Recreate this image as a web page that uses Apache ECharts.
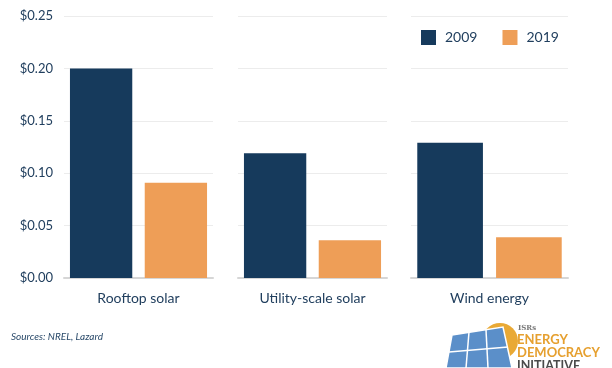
<!DOCTYPE html>
<html><head><meta charset="utf-8">
<script src="https://cdn.jsdelivr.net/npm/echarts@6/dist/echarts.min.js"></script>
<style>html,body{margin:0;padding:0;background:#fff}#c{width:612px;height:368px}</style>
</head><body><div id="c"></div>
<script>
const categories = ['Rooftop solar', 'Utility-scale solar', 'Wind energy'];
const seriesNames = ['2009', '2019'];
const values2009 = [0.200, 0.119, 0.129];
const values2019 = [0.091, 0.036, 0.039];
const yTicks = [0, 0.05, 0.10, 0.15, 0.20, 0.25];

const NAVY = '#163a5c', ORANGE = '#ee9e57', TXT = '#213f5e';
const FONT = 'Lato, "Noto Sans", sans-serif';
const grids = [
  {left: 64, width: 149, top: 16, height: 262},
  {left: 238, width: 149, top: 16, height: 262},
  {left: 411, width: 157, top: 16, height: 262}
];
const xAxes = [], yAxes = [], series = [];
categories.forEach((cat, i) => {
  xAxes.push({
    type: 'category', gridIndex: i, data: [cat],
    axisLine: {show: true, lineStyle: {color: '#d6d6d6', width: 2}},
    axisTick: {show: false},
    axisLabel: {color: TXT, fontSize: 14, fontFamily: FONT, margin: 13}
  });
  yAxes.push({
    type: 'value', gridIndex: i, min: 0, max: yTicks[yTicks.length - 1], interval: 0.05,
    axisLine: {show: false}, axisTick: {show: false},
    splitLine: {lineStyle: {color: '#ececec', width: 1}},
    axisLabel: {show: i === 0, color: TXT, fontSize: 13, fontFamily: FONT, margin: 11,
      formatter: v => '$' + v.toFixed(2)}
  });
  [values2009, values2019].forEach((vals, k) => {
    series.push({
      name: seriesNames[k], type: 'bar', xAxisIndex: i, yAxisIndex: i,
      data: [vals[i]], barGap: '20%', barCategoryGap: '8%',
      itemStyle: {color: k === 0 ? NAVY : ORANGE},
      animation: false
    });
  });
});

const chart = echarts.init(document.getElementById('c'));
chart.setOption({
  animation: false,
  grid: grids,
  xAxis: xAxes,
  yAxis: yAxes,
  legend: {
    data: seriesNames, left: 421, top: 30, padding: 0, itemWidth: 15, itemHeight: 15, itemGap: 25,
    icon: 'rect', textStyle: {color: TXT, fontSize: 14, fontFamily: FONT, padding: [0, 0, 0, 4]}
  },
  series: series,
  graphic: [
    {type: 'text', left: 11, top: 332, style: {text: 'Sources: NREL, Lazard', fill: '#2a4a6a',
      font: 'italic 10px ' + FONT}},
    // logo: sun
    {type: 'circle', shape: {cx: 500, cy: 341, r: 18}, style: {fill: '#e9a935'}},
    {type: 'polygon', shape: {points: [[452, 335], [503, 327], [512, 368], [446, 368]]},
      style: {fill: '#5b8fc9', stroke: '#ffffff', lineWidth: 1.5}},
    {type: 'polyline', shape: {points: [[449, 352], [508, 347]]}, style: {stroke: '#fff', lineWidth: 1.5}},
    {type: 'polyline', shape: {points: [[469, 332], [466, 368]]}, style: {stroke: '#fff', lineWidth: 1.5}},
    {type: 'polyline', shape: {points: [[486, 330], [488, 368]]}, style: {stroke: '#fff', lineWidth: 1.5}},
    {type: 'text', left: 518, top: 325, style: {text: 'ISRs', fill: '#777', font: 'bold 7px "DejaVu Serif", serif'}},
    {type: 'text', left: 517, top: 333, style: {text: 'ENERGY', fill: '#e6a02f', font: 'bold 13px ' + FONT}},
    {type: 'text', left: 517, top: 346, style: {text: 'DEMOCRACY', fill: '#e6a02f', font: 'bold 13px ' + FONT}},
    {type: 'text', left: 517, top: 359, style: {text: 'INITIATIVE', fill: '#4a4a4a', font: 'bold 12.5px ' + FONT}}
  ]
});
</script></body></html>
